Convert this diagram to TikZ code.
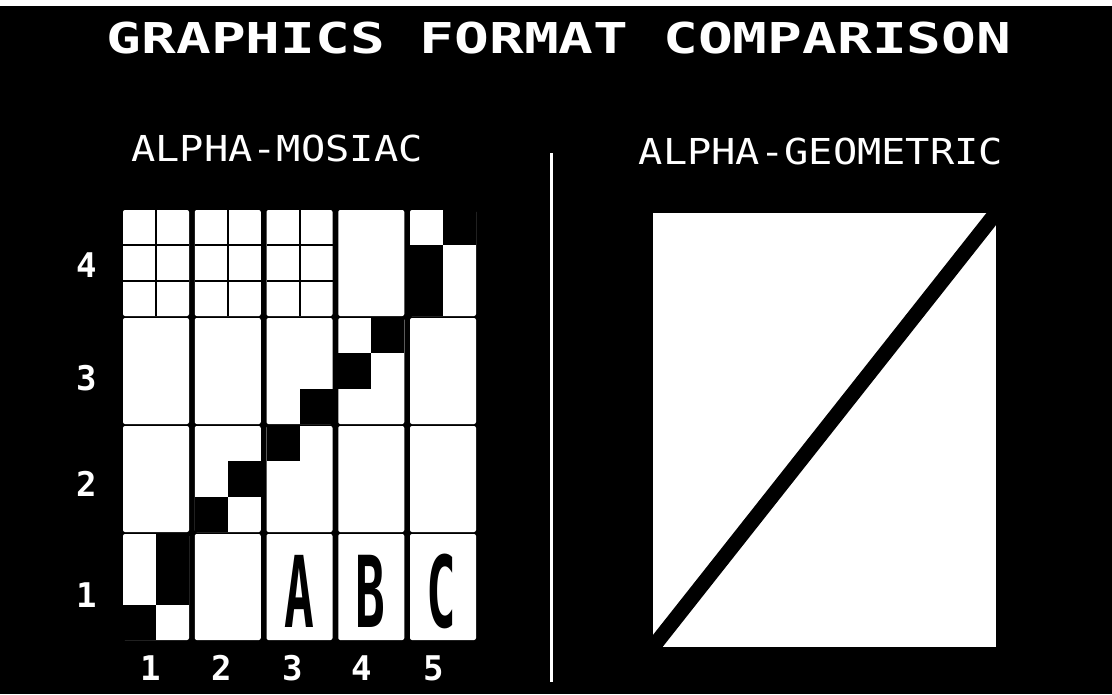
\documentclass[tikz,border=0pt]{standalone}
\usepackage{fontspec}
\newfontfamily\crtfont{DejaVu Sans Mono}
\usepackage{tikz}

\begin{document}
\begin{tikzpicture}[x=1pt,y=-1pt,
    heading/.style={white,inner sep=0pt,xscale=1.36,
        font=\crtfont\bfseries\fontsize{42.5}{44}\selectfont},
    panelname/.style={white,inner sep=0pt,xscale=1.13,
        font=\crtfont\fontsize{35.7}{38}\selectfont},
    axisnum/.style={white,inner sep=0pt,
        font=\crtfont\bfseries\fontsize{34}{36}\selectfont},
    bigchar/.style={black,inner sep=0pt,xscale=0.5,
        font=\crtfont\bfseries\fontsize{99}{100}\selectfont},
    cell/.style={fill=white,rounded corners=2pt}
]

\useasboundingbox (0,0) rectangle (1112,694);

% Screen
\fill[black] (0,0) rectangle (1112,694);
\fill[white] (0,0) rectangle (1112,6);

% Titles
\node[heading] (title) at (559,38) {GRAPHICS FORMAT COMPARISON};
\node[panelname] (mosaic) at (277,149) {ALPHA-MOSIAC};
\node[panelname] (geometric) at (821,152) {ALPHA-GEOMETRIC};

% Divider
\draw[white,line width=3pt] (551,153) -- (551,682);

% Character cells
\foreach \c in {0,...,4}
  \foreach \r in {0,...,3}
    \fill[cell] ({123+71.75*\c},{210+108*\r}) rectangle +(66,106);

% Block lines in the top row
\foreach \c in {0,1,2} {
  \draw[black,line width=2pt] ({156+71.75*\c},210) -- +(0,106);
  \draw[black,line width=2pt] ({123+71.75*\c},245.3) -- +(66,0);
  \draw[black,line width=2pt] ({123+71.75*\c},280.7) -- +(66,0);
}

% Mosaic staircase
\foreach \sc/\sr in {0/0,1/1,1/2,2/3,3/4,4/5,5/6,6/7,7/8,8/9,8/10,9/11}
  \fill[black] ({123+71.75*int(\sc/2)+33*mod(\sc,2)},{316+108*(3-int(\sr/3))-35.33*mod(\sr,3)})
    rectangle +(33,-35.33);

% Letters
\node[bigchar] (chA) at (299,591) {A};
\node[bigchar] (chB) at (370,591) {B};
\node[bigchar] (chC) at (441,591) {C};

% Row numbers
\foreach \n/\y in {1/595,2/484,3/378,4/265}
  \node[axisnum] (row\n) at (87,\y) {\n};

% Column numbers
\foreach \n/\x in {1/151,2/222,3/293,4/362,5/434}
  \node[axisnum] (col\n) at (\x,668) {\n};

% Geometric panel
\fill[white] (653,213) rectangle (996,647);
\draw[black,line width=15pt] (653,647) -- (996,213);

\end{tikzpicture}
\end{document}
